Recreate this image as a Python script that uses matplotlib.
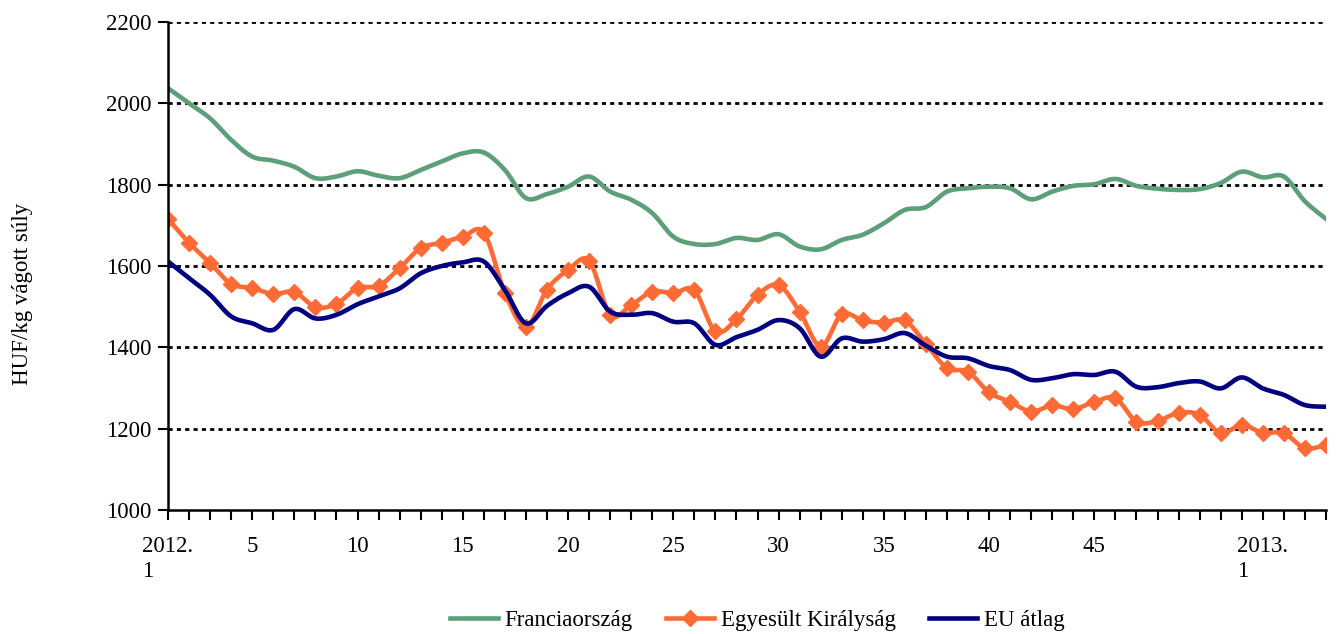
import numpy as np
import matplotlib
matplotlib.use("Agg")
import matplotlib.pyplot as plt
from matplotlib.lines import Line2D

plt.rcParams['font.family'] = ['Liberation Serif', 'DejaVu Serif']

# heti adatok: 2012. 1. hét - 2013. 4. hét
weeks = np.arange(56)
tick_pos = [0, 4, 9, 14, 19, 24, 29, 34, 39, 44, 52]
tick_lab = ['2012.\n1', '5', '10', '15', '20', '25', '30', '35', '40', '45', '2013.\n1']

francia = [2037, 2000, 1963, 1910, 1869, 1859, 1844, 1816, 1820, 1833,
           1822, 1816, 1836, 1857, 1877, 1879, 1836, 1767, 1777, 1795,
           1820, 1783, 1763, 1730, 1672, 1654, 1654, 1669, 1664, 1678,
           1648, 1641, 1664, 1677, 1705, 1738, 1745, 1783, 1791, 1795,
           1791, 1764, 1783, 1797, 1801, 1814, 1797, 1790, 1787, 1789,
           1804, 1832, 1818, 1820, 1759, 1716]

uk = [1716, 1657, 1607, 1556, 1546, 1531, 1536, 1499, 1507, 1546,
      1551, 1595, 1644, 1657, 1672, 1682, 1534, 1450, 1542, 1590,
      1613, 1480, 1504, 1537, 1533, 1540, 1439, 1469, 1529, 1553,
      1488, 1402, 1481, 1466, 1461, 1466, 1408, 1349, 1340, 1289,
      1266, 1242, 1257, 1248, 1266, 1275, 1217, 1219, 1239, 1234,
      1189, 1209, 1190, 1189, 1152, 1160]

eu = [1611, 1570, 1529, 1476, 1459, 1443, 1494, 1471, 1480, 1506,
      1525, 1545, 1582, 1600, 1609, 1611, 1541, 1459, 1502, 1533,
      1549, 1488, 1480, 1484, 1463, 1459, 1406, 1425, 1443, 1467,
      1447, 1377, 1422, 1414, 1420, 1435, 1404, 1377, 1373, 1354,
      1344, 1320, 1324, 1334, 1332, 1340, 1303, 1302, 1312, 1316,
      1299, 1326, 1299, 1283, 1258, 1254]


def smooth(x, y, n=24):
    # Catmull-Rom, mint az Excel simított vonala
    x = np.asarray(x, float)
    y = np.asarray(y, float)
    xs, ys = [], []
    t = np.linspace(0, 1, n, endpoint=False)
    for i in range(len(x) - 1):
        i0 = max(i - 1, 0)
        i3 = min(i + 2, len(x) - 1)
        for arr, out in ((x, xs), (y, ys)):
            p0, p1, p2, p3 = arr[i0], arr[i], arr[i + 1], arr[i3]
            out.extend(0.5 * (2 * p1 + (-p0 + p2) * t
                              + (2 * p0 - 5 * p1 + 4 * p2 - p3) * t ** 2
                              + (-p0 + 3 * p1 - 3 * p2 + p3) * t ** 3))
    xs.append(x[-1])
    ys.append(y[-1])
    return np.array(xs), np.array(ys)


c_fr = '#5c9f79'
c_uk = '#ff6a35'
c_eu = '#000080'
fs = 16.5

fig = plt.figure(figsize=(13.38, 6.34), dpi=100)
ax = fig.add_axes([0.1256, 0.1956, 0.8654, 0.7697])

ax.plot(*smooth(weeks, francia), color=c_fr, lw=3.3)
ax.plot(*smooth(weeks, uk), color=c_uk, lw=3.3)
ax.plot(weeks, uk, ls='none', marker='D', ms=8.5, color=c_uk)
ax.plot(*smooth(weeks, eu), color=c_eu, lw=3.3)

ax.set_xlim(0, 55)
ax.set_ylim(1000, 2200)
ax.set_yticks(np.arange(1000, 2201, 200))
ax.set_xticks(weeks, minor=True)
ax.set_xticks(tick_pos)
ax.set_xticklabels(tick_lab)
for lab in ax.get_xticklabels():
    lab.set_multialignment('left')
ax.tick_params(axis='x', which='both', direction='out', length=7, width=1.5, labelsize=fs, pad=12)
ax.tick_params(axis='y', direction='out', length=7, width=1.5, labelsize=fs, pad=5)

for v in range(1200, 2201, 200):
    ax.axhline(v, color='black', lw=2, ls=(0, (1.5, 1.5)), zorder=0)

for s in ['top', 'right']:
    ax.spines[s].set_visible(False)
ax.spines['left'].set_linewidth(1.8)
ax.spines['bottom'].set_linewidth(1.8)

fig.text(0.017, 0.536, 'HUF/kg vágott súly', rotation=90, fontsize=fs,
         ha='center', va='center')

handles = [Line2D([], [], color=c_fr, lw=3.3),
           Line2D([], [], color=c_uk, lw=3.3, marker='D', ms=8.5),
           Line2D([], [], color=c_eu, lw=3.3)]
fig.legend(handles, ['Franciaország', 'Egyesült Királyság', 'EU átlag'],
           loc='center', bbox_to_anchor=(0.566, 0.022), ncol=3, frameon=False,
           fontsize=fs, handlelength=2.1, handletextpad=0.3, columnspacing=1.45)

fig.savefig('out.png', dpi=100)
